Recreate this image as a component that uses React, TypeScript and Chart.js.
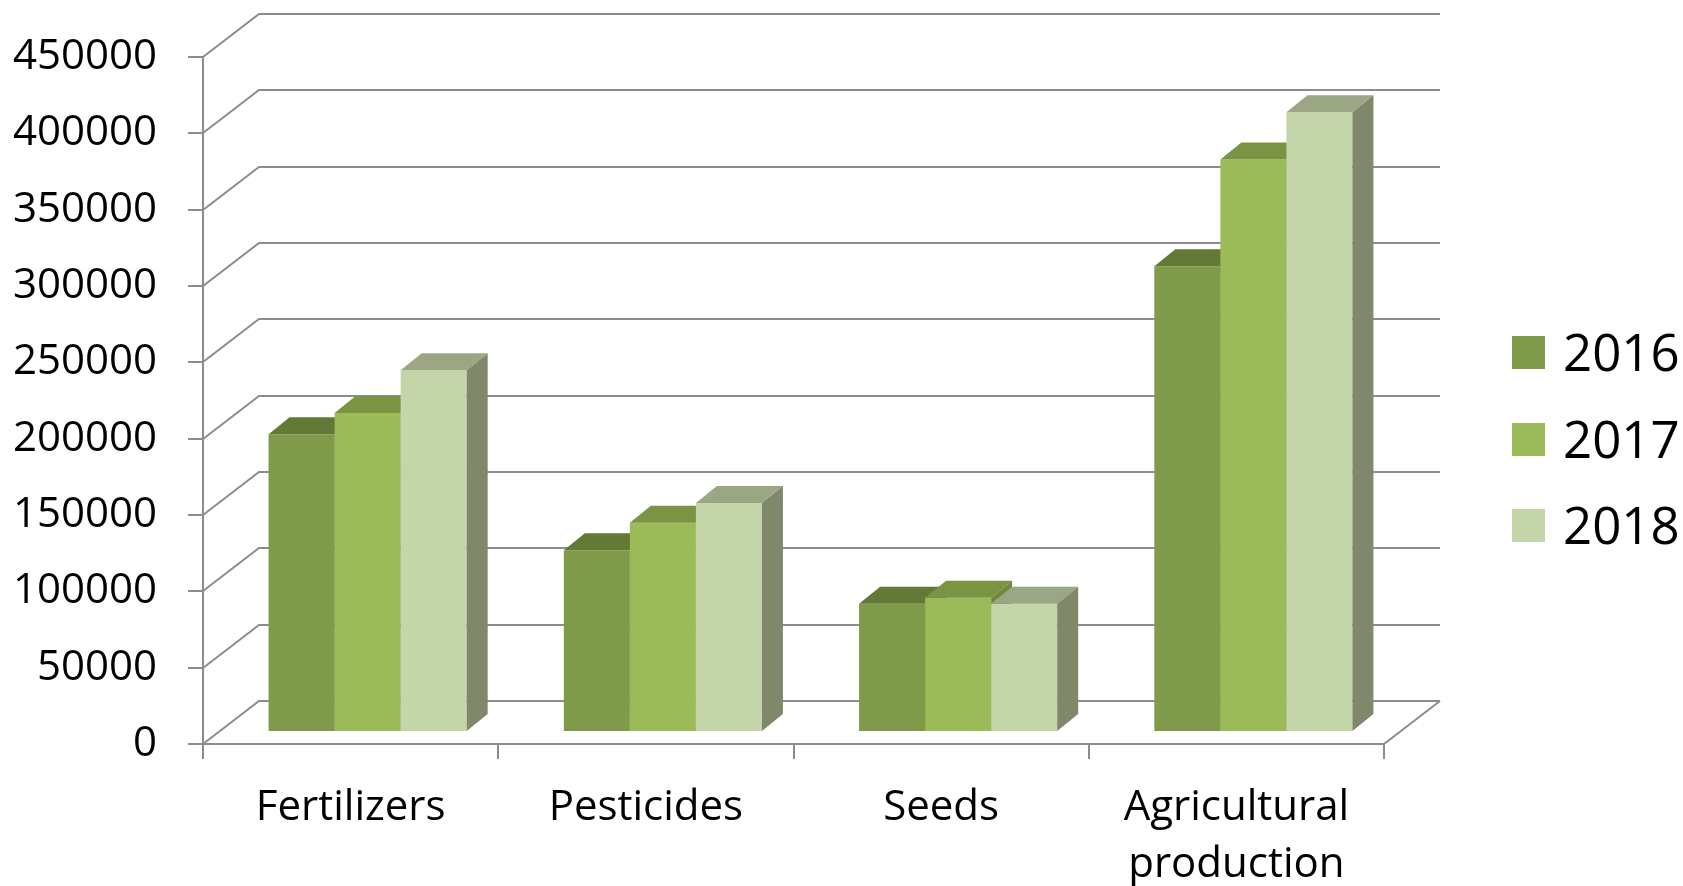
import React, { useEffect, useRef } from "react";
import { Chart, registerables } from "chart.js";

Chart.register(...registerables);

// ---- data ----
const categories: (string | string[])[] = ["Fertilizers", "Pesticides", "Seeds", ["Agricultural", "production"]];
const seriesNames = ["2016", "2017", "2018"];
const values2016 = [195000, 119000, 84000, 305000];
const values2017 = [209000, 137000, 88000, 375000];
const values2018 = [237000, 150000, 84000, 406000];
const yMin = 0;
const yMax = 450000;
const yStep = 50000;

// ---- style ----
const frontColors = ["#7F9A48", "#9BBB59", "#C4D6A9"];
const topColors = ["#627A36", "#7A9444", "#9AA684"];
const sideColors = ["#5F7634", "#6F8A3C", "#7F886B"];
const GRID = "#8C8C8C";
const FONT = "'Open Sans', 'Noto Sans', sans-serif";

const WALL_DX = 56;
const WALL_DY = -43;
const BAR_SHIFT_X = 17;
const BAR_SHIFT_Y = -12;
const BAR_DX = 21;
const BAR_DY = -17;

const threeD = {
  id: "threeD",
  beforeDatasetsDraw(chart: any) {
    const { ctx, chartArea: a, scales } = chart;
    const y = scales.y;
    ctx.save();
    ctx.strokeStyle = GRID;
    ctx.lineWidth = 2;
    y.ticks.forEach((t: any) => {
      const py = Math.round(y.getPixelForValue(t.value));
      ctx.beginPath();
      ctx.moveTo(a.left, py);
      ctx.lineTo(a.left + WALL_DX, py + WALL_DY);
      ctx.lineTo(a.right + WALL_DX, py + WALL_DY);
      ctx.stroke();
    });
    ctx.beginPath();
    ctx.moveTo(a.right, a.bottom);
    ctx.lineTo(a.right + WALL_DX, a.bottom + WALL_DY);
    ctx.stroke();
    ctx.restore();
  },
  beforeDatasetDraw() {
    return false;
  },
  afterDatasetsDraw(chart: any) {
    const ctx = chart.ctx;
    ctx.save();
    ctx.translate(BAR_SHIFT_X, BAR_SHIFT_Y);
    const n = chart.data.datasets.length;
    for (let i = 0; i < n; i++) {
      const meta = chart.getDatasetMeta(i);
      meta.data.forEach((bar: any) => {
        bar.draw(ctx);
        const { x, y, base, width } = bar.getProps(["x", "y", "base", "width"], true);
        const l = x - width / 2;
        const r = x + width / 2;
        ctx.fillStyle = topColors[i];
        ctx.beginPath();
        ctx.moveTo(l, y);
        ctx.lineTo(l + BAR_DX, y + BAR_DY);
        ctx.lineTo(r + BAR_DX, y + BAR_DY);
        ctx.lineTo(r, y);
        ctx.closePath();
        ctx.fill();
        ctx.fillStyle = sideColors[i];
        ctx.beginPath();
        ctx.moveTo(r, y);
        ctx.lineTo(r + BAR_DX, y + BAR_DY);
        ctx.lineTo(r + BAR_DX, base + BAR_DY);
        ctx.lineTo(r, base);
        ctx.closePath();
        ctx.fill();
      });
    }
    ctx.restore();
  },
  afterDraw(chart: any) {
    const ctx = chart.ctx;
    ctx.save();
    const boxX = 1512;
    const box = 33;
    const tops = [336, 423, 509];
    ctx.font = `51px ${FONT}`;
    ctx.textBaseline = "alphabetic";
    ctx.textAlign = "left";
    chart.data.datasets.forEach((ds: any, i: number) => {
      ctx.fillStyle = ds.backgroundColor;
      ctx.fillRect(boxX, tops[i], box, box);
      ctx.fillStyle = "#000";
      ctx.fillText(ds.label, 1563, tops[i] + 35);
    });
    ctx.restore();
  },
};

export default function App() {
  const ref = useRef<HTMLCanvasElement | null>(null);
  useEffect(() => {
    document.body.style.margin = "0";
    const canvas = ref.current;
    if (!canvas) return;
    const seriesValues = [values2016, values2017, values2018];
    const chart = new Chart(canvas, {
      type: "bar",
      data: {
        labels: categories,
        datasets: seriesNames.map((name, i) => ({
          label: name,
          data: seriesValues[i],
          backgroundColor: frontColors[i],
          borderWidth: 0,
          categoryPercentage: 0.671,
          barPercentage: 1,
        })),
      },
      options: {
        animation: false,
        responsive: false,
        maintainAspectRatio: false,
        devicePixelRatio: 1,
        layout: { padding: { left: 0, top: 57, right: 299, bottom: 0 } },
        plugins: { legend: { display: false }, tooltip: { enabled: false } },
        scales: {
          x: {
            afterFit: (s: any) => {
              s.height = 142;
            },
            grid: {
              drawOnChartArea: false,
              drawTicks: true,
              tickLength: 15,
              color: GRID,
              lineWidth: 2,
              offset: true,
            },
            border: { display: true, color: GRID, width: 2 },
            ticks: {
              color: "#000",
              font: { family: FONT, size: 42, lineHeight: 1.36 },
              padding: 20,
              maxRotation: 0,
              autoSkip: false,
            },
          },
          y: {
            min: yMin,
            max: yMax,
            afterFit: (s: any) => {
              s.width = 203;
            },
            grid: {
              drawOnChartArea: false,
              drawTicks: true,
              tickLength: 15,
              color: GRID,
              lineWidth: 2,
            },
            border: { display: true, color: GRID, width: 2 },
            ticks: {
              stepSize: yStep,
              color: "#000",
              font: { family: FONT, size: 42 },
              padding: 31,
              callback: (v: any) => String(v),
            },
          },
        },
      },
      plugins: [threeD],
    });
    return () => chart.destroy();
  }, []);
  return (
    <div style={{ width: 1683, height: 886, background: "#fff" }}>
      <canvas ref={ref} width={1683} height={886} style={{ display: "block", width: 1683, height: 886 }} />
    </div>
  );
}
